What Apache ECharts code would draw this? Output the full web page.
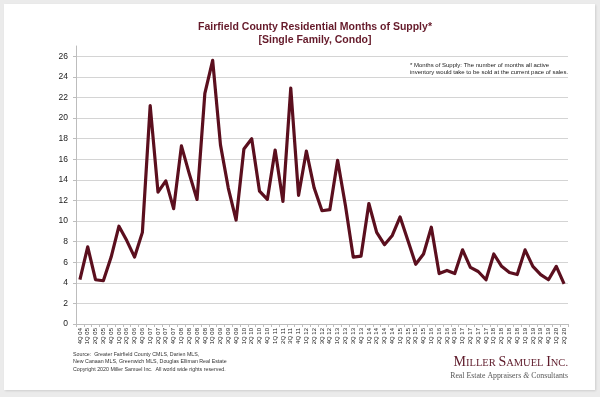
<!DOCTYPE html>
<html>
<head>
<meta charset="utf-8">
<script src="https://cdn.jsdelivr.net/npm/echarts@6/dist/echarts.min.js"></script>
<style>
html,body{margin:0;padding:0;background:#ebebeb;width:600px;height:397px;overflow:hidden;}
#card{position:absolute;left:4px;top:4px;width:591px;height:386px;background:#fff;box-shadow:1px 1px 2px rgba(0,0,0,0.12);}
#chart{position:absolute;left:0;top:0;width:600px;height:397px;}
</style>
</head>
<body>
<div id="card"></div>
<div id="chart"></div>
<script>
const quarters = ['4Q 04',
 '1Q 05','2Q 05','3Q 05','4Q 05',
 '1Q 06','2Q 06','3Q 06','4Q 06',
 '1Q 07','2Q 07','3Q 07','4Q 07',
 '1Q 08','2Q 08','3Q 08','4Q 08',
 '1Q 09','2Q 09','3Q 09','4Q 09',
 '1Q 10','2Q 10','3Q 10','4Q 10',
 '1Q 11','2Q 11','3Q 11','4Q 11',
 '1Q 12','2Q 12','3Q 12','4Q 12',
 '1Q 13','2Q 13','3Q 13','4Q 13',
 '1Q 14','2Q 14','3Q 14','4Q 14',
 '1Q 15','2Q 15','3Q 15','4Q 15',
 '1Q 16','2Q 16','3Q 16','4Q 16',
 '1Q 17','2Q 17','3Q 17','4Q 17',
 '1Q 18','2Q 18','3Q 18','4Q 18',
 '1Q 19','2Q 19','3Q 19','4Q 19',
 '1Q 20','2Q 20'];

const monthsOfSupply = [4.3,
 7.5, 4.3, 4.2, 6.5,
 9.5, 8.1, 6.5, 8.9,
 21.2, 12.8, 13.9, 11.2,
 17.3, 14.6, 12.1, 22.4,
 25.6, 17.4, 13.2, 10.1,
 17.0, 18.0, 12.9, 12.1,
 16.9, 11.9, 22.9, 12.5,
 16.8, 13.2, 11.0, 11.1,
 15.9, 11.5, 6.5, 6.6,
 11.7, 8.9, 7.7, 8.6,
 10.4, 8.1, 5.8, 6.8,
 9.4, 4.9, 5.2, 4.9,
 7.2, 5.5, 5.1, 4.3,
 6.8, 5.6, 5.0, 4.8,
 7.2, 5.6, 4.8, 4.3,
 5.6, 3.9];

const yTicks = [0,2,4,6,8,10,12,14,16,18,20,22,24,26];

const chart = echarts.init(document.getElementById('chart'), null, {renderer:'canvas'});
const sans = '"Liberation Sans", Arial, sans-serif';
const serif = '"Liberation Serif", "Times New Roman", serif';
chart.setOption({
  backgroundColor: 'transparent',
  animation: false,
  title: [
    {
      text: 'Fairfield County Residential Months of Supply*\n[Single Family, Condo]',
      left: 315, top: 21, textAlign: 'center', padding: 0,
      textStyle: {fontFamily: sans, fontSize: 10.5, fontWeight: 'bold', color: '#651a2a', lineHeight: 12.5}
    },
    {
      text: '* Months of Supply: The number of months all active\ninventory would take to be sold at the current pace of sales.',
      left: 410, top: 61.5, padding: 0,
      textStyle: {fontFamily: sans, fontSize: 6, color: '#222', lineHeight: 7, fontWeight: 'normal'}
    },
    {
      text: 'Source:  Greater Fairfield County CMLS, Darien MLS,\nNew Canaan MLS, Greenwich MLS, Douglas Elliman Real Estate',
      left: 73, top: 351.5, padding: 0,
      textStyle: {fontFamily: sans, fontSize: 5.3, color: '#333', lineHeight: 7, fontWeight: 'normal'}
    },
    {
      text: 'Copyright 2020 Miller Samuel Inc.  All world wide rights reserved.',
      left: 73, top: 366.5, padding: 0,
      textStyle: {fontFamily: sans, fontSize: 5.3, color: '#333', lineHeight: 7, fontWeight: 'normal'}
    },
    {
      text: '{b|M}{s|ILLER }{b|S}{s|AMUEL }{b|I}{s|NC.}',
      right: 32, top: 355, padding: 0,
      textStyle: {
        rich: {
          b: {fontFamily: serif, fontSize: 14, fontWeight: 'normal', color: '#5e1a2a', verticalAlign: 'bottom', lineHeight: 14},
          s: {fontFamily: serif, fontSize: 10.5, fontWeight: 'normal', color: '#5e1a2a', verticalAlign: 'bottom', lineHeight: 14}
        }
      }
    },
    {
      text: '{t|Real Estate Appraisers }{i|&}{t| Consultants}',
      right: 32, top: 372, padding: 0,
      textStyle: {
        rich: {
          t: {fontFamily: serif, fontSize: 7.8, fontWeight: 'normal', color: '#555'},
          i: {fontFamily: serif, fontSize: 7.8, fontWeight: 'normal', color: '#555', fontStyle: 'italic'}
        }
      }
    }
  ],
  grid: {left: 76, right: 32, top: 46, bottom: 73, containLabel: false},
  xAxis: {
    type: 'category',
    data: quarters,
    boundaryGap: true,
    axisLine: {show: true, lineStyle: {color: '#bdbdbd', width: 1}},
    axisTick: {show: true, length: 3, lineStyle: {color: '#bdbdbd'}},
    axisLabel: {interval: 0, rotate: 90, fontSize: 6, margin: 4, color: '#222', fontFamily: sans}
  },
  yAxis: {
    type: 'value',
    min: 0, max: 27, interval: 2,
    axisLine: {show: true, lineStyle: {color: '#bdbdbd', width: 1}},
    axisTick: {show: true, length: 3, lineStyle: {color: '#bdbdbd'}},
    axisLabel: {
      fontSize: 8.5, color: '#222', margin: 8, fontFamily: sans,
      showMaxLabel: false,
      formatter: function (v) { return yTicks.indexOf(v) >= 0 ? String(v) : ''; }
    },
    splitLine: {show: true, showMaxLine: false, lineStyle: {color: '#d4d4d4', width: 1}}
  },
  series: [{
    type: 'line',
    data: monthsOfSupply,
    symbol: 'none',
    smooth: false,
    lineStyle: {color: '#5b0f1e', width: 3.2, join: 'round'},
    itemStyle: {color: '#5b0f1e'}
  }]
});
</script>
</body>
</html>
